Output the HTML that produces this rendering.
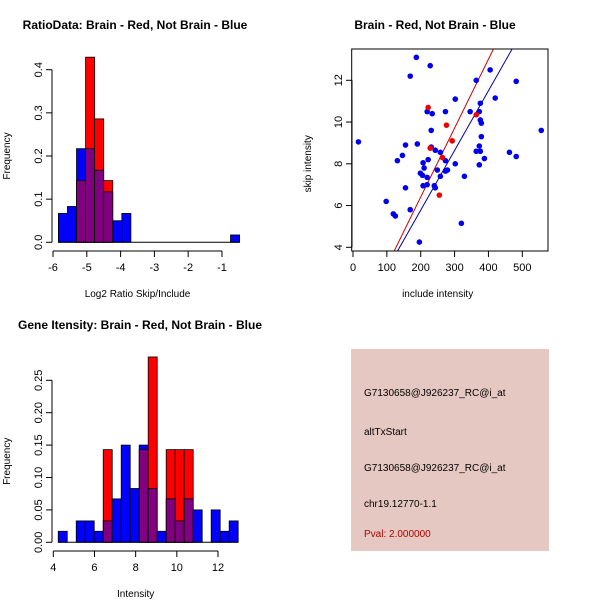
<!DOCTYPE html>
<html><head><meta charset="utf-8"><style>
body{margin:0;background:#fff}
svg text{font-family:"Liberation Sans",sans-serif;}
</style></head><body>
<svg id="s" width="600" height="600" viewBox="0 0 600 600" xmlns="http://www.w3.org/2000/svg">
<rect width="600" height="600" fill="#fff"/>
<text x="135" y="29" font-size="12" font-weight="bold" text-anchor="middle">RatioData: Brain - Red, Not Brain - Blue</text>
<text x="435" y="29" font-size="12" font-weight="bold" text-anchor="middle">Brain - Red, Not Brain - Blue</text>
<text x="140" y="329" font-size="12" font-weight="bold" text-anchor="middle">Gene Itensity: Brain - Red, Not Brain - Blue</text>
<g id="p1"></g>
<g id="p2"></g>
<g id="p3"></g>
<g>
<rect x="351" y="349" width="198" height="202" fill="#e6c8c2"/>
<text x="364" y="396" font-size="10">G7130658@J926237_RC@i_at</text>
<text x="364" y="435" font-size="10">altTxStart</text>
<text x="364" y="471" font-size="10">G7130658@J926237_RC@i_at</text>
<text x="364" y="507" font-size="10">chr19.12770-1.1</text>
<text x="364" y="537" font-size="10" fill="#b00000">Pval: 2.000000</text>
</g>
</svg>
<script>
// Panel 1 data
const ratioBlue=[0.067,0.083,0.217,0.217,0.167,0.117,0.05,0.067,0,0,0,0,0,0,0,0,0,0,0,0.017];
const ratioRed=[0,0,0.143,0.429,0.286,0.143,0,0,0,0,0,0,0,0,0,0,0,0,0,0];
const ratioStart=-5.84, ratioWidth=0.268;
const ratioXTicks=[-6,-5,-4,-3,-2,-1];
const ratioYTicks=[0,0.1,0.2,0.3,0.4];
const ratioYLabels=["0.0","0.1","0.2","0.3","0.4"];
// Panel 2 data
const blueX=[16,187,228,169,405,364,482,420,302,376,219,234,273,346,373,376,379,231,556,379,155,190,231,243,258,373,364,376,462,146,131,222,273,207,388,482,210,302,373,199,205,219,249,273,279,258,329,207,219,240,243,155,98,169,119,125,320,196];
const blueY=[9.05,13.1,12.7,12.2,12.5,12.0,11.95,11.15,11.1,10.9,10.5,10.4,10.5,10.5,10.5,10.1,9.95,9.6,9.6,9.3,8.9,8.95,8.8,8.65,8.55,8.85,8.6,8.6,8.55,8.4,8.15,8.2,8.15,8.05,8.25,8.35,7.8,8.0,7.95,7.55,7.45,7.35,7.7,7.65,7.7,7.4,7.4,6.95,7.0,6.95,6.85,6.85,6.2,5.8,5.6,5.5,5.15,4.25];
const redX=[222,276,293,228,264,364,255];
const redY=[10.7,9.85,9.1,8.75,8.3,10.35,6.5];
const redFit=[-0.19,0.0330];   // intercept, slope
const blueFit=[0.06,0.0286];
const scXTicks=[0,100,200,300,400,500];
const scYTicks=[4,6,8,10,12];
// Panel 3 data
const intBlue=[0.017,0,0.033,0.033,0.017,0.033,0.067,0.15,0.083,0.15,0.083,0.017,0.067,0.033,0.067,0.05,0,0.05,0.017,0.033];
const intRed=[0,0,0,0,0,0.143,0,0,0,0.143,0.286,0,0.143,0.143,0.143,0,0,0,0,0];
const intStart=4.24, intWidth=0.437;
const intXTicks=[4,6,8,10,12];
const intYTicks=[0,0.05,0.1,0.15,0.2,0.25];
const intYLabels=["0.00","0.05","0.10","0.15","0.20","0.25"];

const NS="http://www.w3.org/2000/svg";
function mk(g,tag,at,txt){const e=document.createElementNS(NS,tag);for(const k in at)e.setAttribute(k,at[k]);if(txt!==undefined)e.textContent=txt;g.appendChild(e);return e;}
function lin(d0,d1,p0,p1){return v=>p0+(v-d0)*(p1-p0)/(d1-d0);}

function axes(g,sx,sy,xt,xl,yt,yl,xAxisY,yAxisX,xlab,ylab,xlabY,ylabX){
  mk(g,'line',{x1:sx(xt[0]),x2:sx(xt[xt.length-1]),y1:xAxisY,y2:xAxisY,stroke:'#000'});
  xt.forEach((t,i)=>{mk(g,'line',{x1:sx(t),x2:sx(t),y1:xAxisY,y2:xAxisY+6,stroke:'#000'});
    const e=mk(g,'text',{x:sx(t),y:xAxisY+20,'font-size':11,'text-anchor':'middle'},xl[i]);
    });
  mk(g,'line',{x1:yAxisX,x2:yAxisX,y1:sy(yt[0]),y2:sy(yt[yt.length-1]),stroke:'#000'});
  yt.forEach((t,i)=>{mk(g,'line',{x1:yAxisX-6,x2:yAxisX,y1:sy(t),y2:sy(t),stroke:'#000'});
    const e=mk(g,'text',{x:yAxisX-10,y:sy(t),'font-size':11,'text-anchor':'middle',transform:`rotate(-90 ${yAxisX-10} ${sy(t)})`},yl[i]);
    });
  const xa=mk(g,'text',{x:(sx(xt[0])+sx(xt[xt.length-1]))/2,y:xlabY,'font-size':10,'text-anchor':'middle'},xlab);
  
  const cy=(sy(yt[0])+sy(yt[yt.length-1]))/2;
  const ya=mk(g,'text',{x:ylabX,y:cy,'font-size':10,'text-anchor':'middle',transform:`rotate(-90 ${ylabX} ${cy})`},ylab);
  
}
function hist(g,sx,sy,start,w,blue,red){
  blue.forEach((b,i)=>{const r=red[i];const x0=sx(start+i*w),x1=sx(start+(i+1)*w);
    const top=Math.max(b,r),low=Math.min(b,r);
    if(top<=0)return;
    if(r>b){const e=mk(g,'rect',{x:x0,y:sy(r),width:x1-x0,height:sy(0)-sy(r),fill:'#ff0000',stroke:'#000','stroke-width':0.8});
      }
    else{const e=mk(g,'rect',{x:x0,y:sy(b),width:x1-x0,height:sy(0)-sy(b),fill:'#0000ff',stroke:'#000','stroke-width':0.8});
      }
    if(low>0){const e=mk(g,'rect',{x:x0,y:sy(low),width:x1-x0,height:sy(0)-sy(low),fill:'#800080',stroke:'#000','stroke-width':0.8});
      }
  });
  mk(g,'line',{x1:sx(start),x2:sx(start+blue.length*w),y1:sy(0),y2:sy(0),stroke:'#000'});
}
// Panel 1
{const g=document.getElementById('p1');const sx=lin(-6,-1,53,222),sy=lin(0,0.4,242.3,69.7);
 hist(g,sx,sy,ratioStart,ratioWidth,ratioBlue,ratioRed);
 axes(g,sx,sy,ratioXTicks,ratioXTicks.map(String),ratioYTicks,ratioYLabels,251,52,'Log2 Ratio Skip/Include',"Frequency",297,10);}
// Panel 2
{const g=document.getElementById('p2');const sx=lin(0,500,353,522.3),sy=lin(4,12,247.3,80.3);
 mk(g,'rect',{x:351.7,y:49,width:196.3,height:202,fill:'none',stroke:'#000'});
 const clip=mk(g,'clipPath',{id:'c2'});mk(clip,'rect',{x:351.7,y:49,width:196.3,height:202});
 const lg=mk(g,'g',{'clip-path':'url(#c2)'});
 [[redFit,'#cc0000','red-fit-line'],[blueFit,'#0000aa','blue-fit-line']].forEach(([f,c,n])=>{
  const e=mk(lg,'line',{x1:sx(0),y1:sy(f[0]),x2:sx(600),y2:sy(f[0]+f[1]*600),stroke:c,'stroke-width':1});
  });
 blueX.forEach((x,i)=>{const e=mk(g,'circle',{cx:sx(x),cy:sy(blueY[i]),r:2.8,fill:'#0000ee'});
  });
 redX.forEach((x,i)=>{const e=mk(g,'circle',{cx:sx(x),cy:sy(redY[i]),r:2.8,fill:'#ee0000'});
  });
 axes(g,sx,sy,scXTicks,scXTicks.map(String),scYTicks,scYTicks.map(String),251,352,'include intensity','skip intensity',297,311);}
// Panel 3
{const g=document.getElementById('p3');const sx=lin(4,12,53.3,218),sy=lin(0,0.25,542.3,380.3);
 hist(g,sx,sy,intStart,intWidth,intBlue,intRed);
 axes(g,sx,sy,intXTicks,intXTicks.map(String),intYTicks,intYLabels,551,52,'Intensity','Frequency',597,10);}
</script>
</body></html>
